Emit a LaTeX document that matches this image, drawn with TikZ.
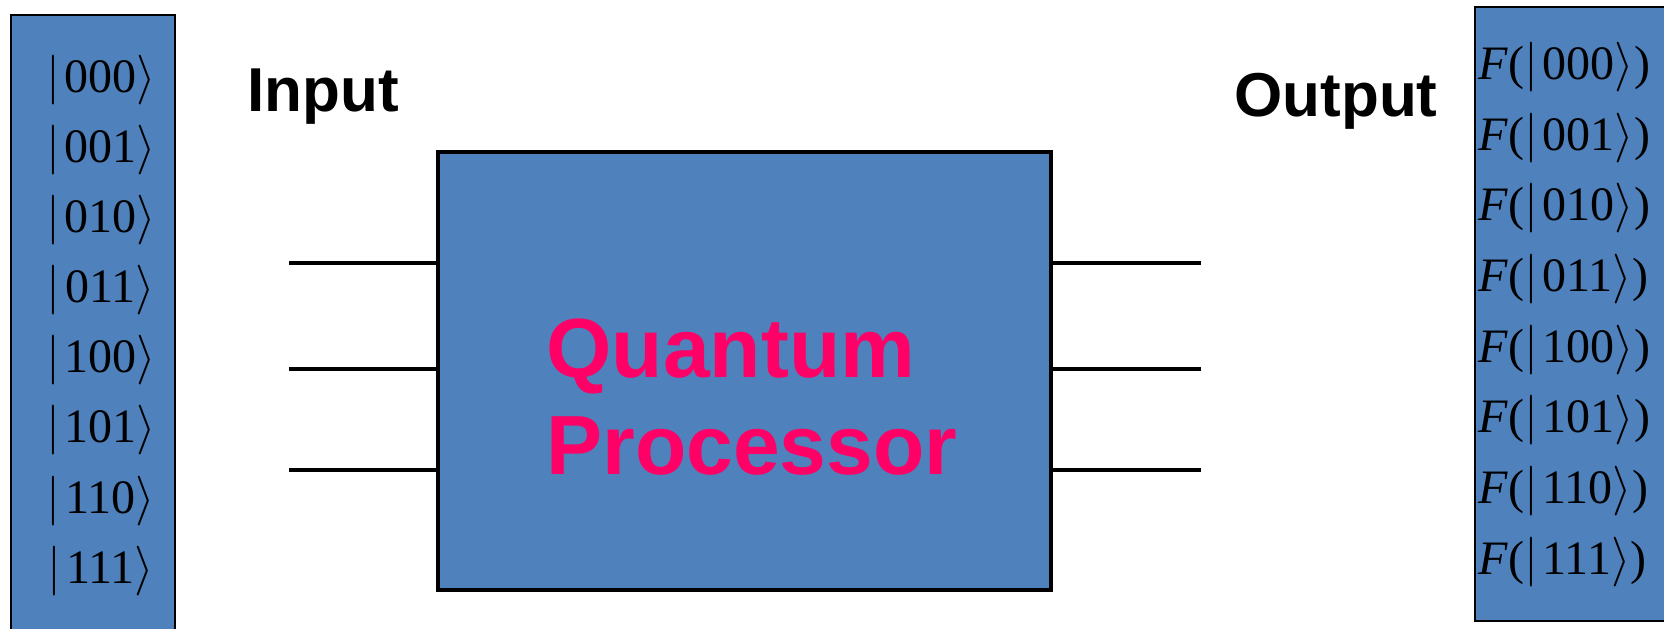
\documentclass[tikz,border=0pt]{standalone}
\usepackage{fontspec}
\setmainfont{Liberation Serif}
\setsansfont{Liberation Sans}
\definecolor{qblue}{HTML}{4F81BD}
\definecolor{qpink}{HTML}{FF0066}
\newcommand\myket[1]{$|$\kern0.1em#1$\rangle$}
\begin{document}
\begin{tikzpicture}[x=0.5pt,y=-0.5pt,
  panel/.style={draw=black, fill=qblue, line width=1pt, inner sep=0pt},
  ketlabel/.style={font=\fontsize{24}{28}\selectfont, inner sep=0pt},
  iolabel/.style={font=\sffamily\bfseries\fontsize{31}{37}\selectfont, inner sep=0pt, anchor=base west},
  proclabel/.style={font=\sffamily\bfseries\fontsize{42}{50}\selectfont, text=qpink, inner sep=0pt, anchor=base west},
  wire/.style={line width=2pt}]
\useasboundingbox (0,0) rectangle (1664,628);
\clip (0,0) rectangle (1664,628);

% input register and output register
\node[panel, minimum width=82pt, minimum height=322.5pt] (inreg) at (93,337.5) {};
\node[panel, minimum width=102.5pt, minimum height=307pt] (outreg) at (1577.5,314) {};

% basis states
\foreach \s [count=\i from 0] in {000,001,010,011,100,101,110,111} {
  \node[ketlabel] (in\s) at (101,{80+70.1*\i}) {\myket{\s}};
  \node[ketlabel, anchor=west] (out\s) at (1478,{67+70.7*\i}) {\textit{F}(\myket{\s})};
}

% the processor block
\node[draw=black, fill=qblue, line width=2pt, minimum width=306.5pt, minimum height=219pt] (qp) at (744.5,371) {};
\node[proclabel] (qt1) at (546,377) {Quantum};
\node[proclabel] (qt2) at (546,474) {Processor};

% labels
\node[iolabel] (inlab) at (247,111) {Input};
\node[iolabel] (outlab) at (1234,116) {Output};

% wires
\foreach \y [count=\k] in {263,369,470} {
  \coordinate (a\k) at (289,\y);
  \coordinate (b\k) at (1201,\y);
  \draw[wire] (a\k) -- (a\k -| qp.west);
  \draw[wire] (qp.east |- b\k) -- (b\k);
}
\end{tikzpicture}
\end{document}
